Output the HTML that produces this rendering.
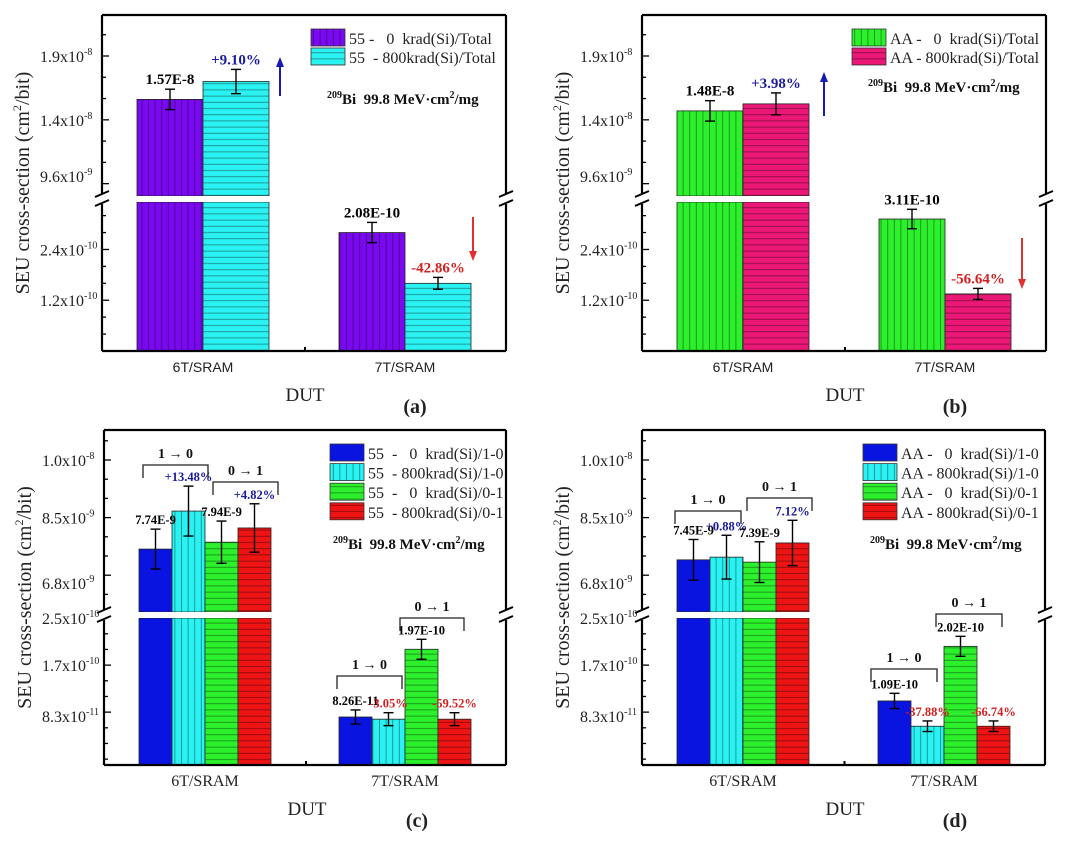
<!DOCTYPE html>
<html><head><meta charset="utf-8"><style>
html,body{margin:0;padding:0;background:#fff;}
svg{display:block;}
text{font-family:"Liberation Serif",serif;}
</style></head><body>
<svg id="fig" width="1080" height="851" viewBox="0 0 1080 851" xmlns="http://www.w3.org/2000/svg">
<defs>
<pattern id="pv" width="6.6" height="10" patternUnits="userSpaceOnUse"><line x1="3.3" y1="0" x2="3.3" y2="10" stroke="#000" stroke-opacity="0.45" stroke-width="0.8"/></pattern>
<pattern id="ph" width="10" height="6.2" patternUnits="userSpaceOnUse"><line x1="0" y1="3.1" x2="10" y2="3.1" stroke="#000" stroke-opacity="0.45" stroke-width="0.8"/></pattern>
</defs>
</svg>
<script>
// ---------- data ----------
const categories = ["6T/SRAM", "7T/SRAM"];
// Panel (a)
const aSeries = ["55 -   0  krad(Si)/Total", "55  - 800krad(Si)/Total"];
const a6T = [15.6e-9, 17.0e-9];
const a7T = [2.8e-10, 1.6e-10];
const a6Terr = [0.8e-9, 0.95e-9];
const a7Terr = [0.24e-10, 0.14e-10];
const aLabels6T = ["1.57E-8", "+9.10%"];
const aLabels7T = ["2.08E-10", "-42.86%"];
// Panel (b)
const bSeries = ["AA -   0  krad(Si)/Total", "AA - 800krad(Si)/Total"];
const b6T = [14.7e-9, 15.25e-9];
const b7T = [3.12e-10, 1.35e-10];
const b6Terr = [0.8e-9, 0.86e-9];
const b7Terr = [0.23e-10, 0.13e-10];
const bLabels6T = ["1.48E-8", "+3.98%"];
const bLabels7T = ["3.11E-10", "-56.64%"];
// Panel (c)
const cSeries = ["55  -   0  krad(Si)/1-0", "55  - 800krad(Si)/1-0", "55  -   0  krad(Si)/0-1", "55  - 800krad(Si)/0-1"];
const c6T = [7.68e-9, 8.67e-9, 7.86e-9, 8.23e-9];
const c7T = [0.817e-10, 0.78e-10, 1.97e-10, 0.78e-10];
const c6Terr = [0.52e-9, 0.65e-9, 0.55e-9, 0.63e-9];
const c7Terr = [0.12e-10, 0.11e-10, 0.17e-10, 0.11e-10];
const cLabels6T = ["7.74E-9", "+13.48%", "7.94E-9", "+4.82%"];
const cLabels7T = ["8.26E-11", "-3.05%", "1.97E-10", "-59.52%"];
// Panel (d)
const dSeries = ["AA -   0  krad(Si)/1-0", "AA - 800krad(Si)/1-0", "AA -   0  krad(Si)/0-1", "AA - 800krad(Si)/0-1"];
const d6T = [7.40e-9, 7.47e-9, 7.34e-9, 7.84e-9];
const d7T = [1.09e-10, 0.66e-10, 2.02e-10, 0.66e-10];
const d6Terr = [0.53e-9, 0.57e-9, 0.53e-9, 0.59e-9];
const d7Terr = [0.13e-10, 0.09e-10, 0.17e-10, 0.09e-10];
const dLabels6T = ["7.45E-9", "+0.88%", "7.39E-9", "7.12%"];
const dLabels7T = ["1.09E-10", "-37.88%", "2.02E-10", "-66.74%"];
// Tick labels
const topUpperTicks = [19e-9, 14e-9, 9.6e-9];
const topUpperTickLabels = ["1.9x10", "1.4x10", "9.6x10"];
const topUpperTickExp = ["-8", "-8", "-9"];
const topLowerTicks = [2.4e-10, 1.2e-10];
const topLowerTickLabels = ["2.4x10", "1.2x10"];
const topLowerTickExp = ["-10", "-10"];
const botUpperTicks = [10e-9, 8.5e-9, 6.8e-9];
const botUpperTickLabels = ["1.0x10", "8.5x10", "6.8x10"];
const botUpperTickExp = ["-8", "-9", "-9"];
const botLowerTicks = [2.5e-10, 1.7e-10, 0.83e-10];
const botLowerTickLabels = ["2.5x10", "1.7x10", "8.3x10"];
const botLowerTickExp = ["-10", "-10", "-11"];

// ---------- drawing ----------
const NS = "http://www.w3.org/2000/svg";
const svg = document.getElementById("fig");
function mk(tag, attrs, parent) {
  const e = document.createElementNS(NS, tag);
  for (const k in attrs) e.setAttribute(k, attrs[k]);
  (parent || svg).appendChild(e);
  return e;
}

function panel(cfg) {
  const g = mk("g", {});
  
  
  const gBars = mk("g", {}, g);
  
  
  const gTop = mk("g", {}, g);
  
  
  const L = cfg.x0, R = cfg.x1, T = cfg.top, B = cfg.bottom;
  const yU = v => cfg.uY0 + (cfg.uV0 - v) * cfg.uK;
  const yL = v => B - v * cfg.lK;
  const yVal = v => v > cfg.split ? yU(v) : yL(v);
  const n = cfg.series.length;
  [cfg.v6, cfg.v7].forEach((vals, ci) => {
    const cx = cfg.centers[ci];
    vals.forEach((v, i) => {
      const x = cx + (i - n / 2) * cfg.bw;
      const bg = mk("g", {}, gBars);
      
      
      const segs = [];
      if (v > cfg.split) { segs.push([cfg.gapB, B]); segs.push([yU(v), cfg.gapT]); }
      else segs.push([yL(v), B]);
      segs.forEach(s => {
        mk("rect", {x: x, y: s[0], width: cfg.bw, height: s[1] - s[0], fill: cfg.colors[i]}, bg);
        if (cfg.pats[i]) mk("rect", {x: x, y: s[0], width: cfg.bw, height: s[1] - s[0], fill: "url(#" + cfg.pats[i] + ")"}, bg);
        mk("rect", {x: x, y: s[0], width: cfg.bw, height: s[1] - s[0], fill: "none", stroke: "#222", "stroke-width": 0.8}, bg);
      });
      const err = (ci === 0 ? cfg.e6 : cfg.e7)[i];
      const yt = yVal(v + err), yb = yVal(v - err), ex = x + cfg.bw / 2;
      const eg = mk("g", {stroke: "#000", "stroke-width": 1.4}, gTop);
      
      
      mk("line", {x1: ex, y1: yt, x2: ex, y2: yb}, eg);
      mk("line", {x1: ex - 5, y1: yt, x2: ex + 5, y2: yt}, eg);
      mk("line", {x1: ex - 5, y1: yb, x2: ex + 5, y2: yb}, eg);
      const lbl = (ci === 0 ? cfg.l6 : cfg.l7)[i];
      const isPct = /%/.test(lbl);
      const col = isPct ? (lbl[0] === '-' ? "#d42020" : "#1a1aa0") : "#000";
      const t = mk("text", {x: ex, y: yt - 5, "text-anchor": "middle", "font-size": cfg.lfs, "font-weight": "bold", fill: col}, gTop);
      t.textContent = lbl;
      
      
    });
  });
  // break gap (white), between bars and overlays
  mk("rect", {x: L + 1, y: cfg.gapT, width: R - L - 2, height: cfg.gapB - cfg.gapT, fill: "#fff"}, gBars);
  // frame
  const fr = mk("g", {stroke: "#000", "stroke-width": 2.2, fill: "none"}, g);
  
  
  mk("line", {x1: L, y1: T, x2: R, y2: T}, fr);
  mk("line", {x1: L, y1: B, x2: R, y2: B}, fr);
  mk("line", {x1: L, y1: T, x2: L, y2: cfg.gapT}, fr);
  mk("line", {x1: L, y1: cfg.gapB, x2: L, y2: B}, fr);
  mk("line", {x1: R, y1: T, x2: R, y2: cfg.gapT}, fr);
  mk("line", {x1: R, y1: cfg.gapB, x2: R, y2: B}, fr);
  [L, R].forEach(xx => {
    const bm = mk("g", {stroke: "#000", "stroke-width": 2}, g);
    
    
    mk("rect", {x: xx - 7, y: cfg.gapT - 2, width: 14, height: cfg.gapB - cfg.gapT + 4, fill: "#fff", stroke: "none"}, bm);
    mk("line", {x1: xx - 7, y1: cfg.gapT + 1, x2: xx + 7, y2: cfg.gapT - 5}, bm);
    mk("line", {x1: xx - 7, y1: cfg.gapB + 4, x2: xx + 7, y2: cfg.gapB - 2}, bm);
  });
  const tg = mk("g", {stroke: "#000", "stroke-width": 1.3}, g);
  
  
  function ticks(vals, labs, exps, scale, ymin, ymax) {
    const pos = vals.map(scale);
    const step = (pos[1] - pos[0]) / 3;
    for (let k = -3; k < pos.length * 3 + 3; k++) {
      const base = pos[0] + k * step;
      if (base < ymin || base > ymax) continue;
      const major = k % 3 === 0 && k >= 0 && k / 3 < pos.length;
      mk("line", {x1: L, y1: base, x2: L + (major ? 7 : 4), y2: base}, tg);
    }
    vals.forEach((v, i) => {
      const y = pos[i];
      const t = mk("text", {x: L - 18, y: y + 6, "text-anchor": "end", "font-size": 16, fill: "#222"}, g);
      t.textContent = labs[i];
      
      
      const s = mk("text", {x: L - 18, y: y - 1, "font-size": 10, fill: "#222"}, g);
      s.textContent = exps[i];
      
      
    });
  }
  ticks(cfg.uT, cfg.uTL, cfg.uTE, yU, T + 4, cfg.gapT - 3);
  ticks(cfg.lT, cfg.lTL, cfg.lTE, yL, cfg.gapB + 3, B - 4);
  mk("line", {x1: (L + R) / 2 + 1, y1: B, x2: (L + R) / 2 + 1, y2: B - 4, stroke: "#000", "stroke-width": 2}, g);
  categories.forEach((c, i) => {
    const t = mk("text", {x: cfg.centers[i], y: B + 21, "text-anchor": "middle", "font-size": cfg.catSans ? 14 : 16, fill: "#222"}, g);
    if (cfg.catSans) t.setAttribute("style", 'font-family:"Liberation Sans",sans-serif');
    t.textContent = c;
    
    
  });
  const xt = mk("text", {x: L + 203, y: B + 50, "text-anchor": "middle", "font-size": 19, fill: "#222"}, g);
  xt.textContent = "DUT";
  
  
  const yc = (T + B) / 2;
  const yt = mk("text", {x: 0, y: 0, "text-anchor": "middle", "font-size": 20, fill: "#222", transform: "translate(" + (L - 73) + "," + yc + ") rotate(-90)"}, g);
  yt.innerHTML = 'SEU cross-section (cm<tspan dy="-8" font-size="12">2</tspan><tspan dy="8">/bit)</tspan>';
  
  
  const pl = mk("text", {x: L + 313, y: B + 62, "text-anchor": "middle", "font-size": 20, "font-weight": "bold", fill: "#222"}, g);
  pl.textContent = "(" + cfg.id + ")";
  
  
  const lg = mk("g", {}, g);
  
  
  cfg.series.forEach((s, i) => {
    const ey = cfg.legY + i * cfg.legStep;
    const e = mk("g", {}, lg);
    
    
    mk("rect", {x: cfg.legX, y: ey, width: 34, height: cfg.legH, fill: cfg.colors[i]}, e);
    if (cfg.pats[i]) mk("rect", {x: cfg.legX, y: ey, width: 34, height: cfg.legH, fill: "url(#" + cfg.pats[i] + ")"}, e);
    mk("rect", {x: cfg.legX, y: ey, width: 34, height: cfg.legH, fill: "none", stroke: "#333", "stroke-width": 0.8}, e);
    const t = mk("text", {x: cfg.legX + 38, y: ey + cfg.legH - 2, "font-size": 16, fill: "#222"}, e);
    t.setAttribute("style", "white-space:pre");
    t.textContent = s;
  });
  const an = mk("text", {x: cfg.annX, y: cfg.annY, "font-size": 15, "font-weight": "bold", fill: "#111"}, g);
  an.innerHTML = '<tspan dy="-6" font-size="10">209</tspan><tspan dy="6">Bi  99.8 MeV·cm</tspan><tspan dy="-6" font-size="10">2</tspan><tspan dy="6">/mg</tspan>';
  an.setAttribute("style", "white-space:pre");
  
  
  (cfg.brackets || []).forEach(b => {
    const bg = mk("g", {}, g);
    
    
    mk("polyline", {points: b.x1 + "," + (b.y + 13) + " " + b.x1 + "," + b.y + " " + b.x2 + "," + b.y + " " + b.x2 + "," + (b.y + 13), fill: "none", stroke: "#222", "stroke-width": 1.3}, bg);
    const t = mk("text", {x: (b.x1 + b.x2) / 2, y: b.y - 7, "text-anchor": "middle", "font-size": 14, "font-weight": "bold", fill: "#111"}, bg);
    t.textContent = b.t;
  });
  (cfg.arrows || []).forEach(a => {
    const ag = mk("g", {}, g);
    
    
    mk("line", {x1: a.x, y1: a.y1, x2: a.x, y2: a.up ? a.y2 + 8 : a.y2 - 8, stroke: a.c, "stroke-width": 2}, ag);
    const tip = a.y2, bs = a.up ? a.y2 + 10 : a.y2 - 10;
    mk("polygon", {points: a.x + "," + tip + " " + (a.x - 4) + "," + bs + " " + (a.x + 4) + "," + bs, fill: a.c}, ag);
  });
}

const topCommon = {top: 15, bottom: 351, gapT: 196, gapB: 202, uY0: 56, uV0: 19e-9, uK: 12.766e9, lK: 42.3e10, split: 1e-9,
  uT: topUpperTicks, uTL: topUpperTickLabels, uTE: topUpperTickExp, lT: topLowerTicks, lTL: topLowerTickLabels, lTE: topLowerTickExp,
  bw: 66, lfs: 15, catSans: true, legY: 29, legStep: 19, legH: 17};
const botCommon = {top: 430, bottom: 765, gapT: 612, gapB: 618, uY0: 460, uV0: 10e-9, uK: 38.4e9, lK: 58.75e10, split: 1e-9,
  uT: botUpperTicks, uTL: botUpperTickLabels, uTE: botUpperTickExp, lT: botLowerTicks, lTL: botLowerTickLabels, lTE: botLowerTickExp,
  bw: 33, lfs: 12.5, catSans: false, legY: 444, legStep: 19.6, legH: 17};

panel(Object.assign({}, topCommon, {id: "a", x0: 102, x1: 506, centers: [203, 405], series: aSeries,
  v6: a6T, v7: a7T, e6: a6Terr, e7: a7Terr, l6: aLabels6T, l7: aLabels7T,
  colors: ["#7a08f0", "#2af2f2"], pats: ["pv", "ph"], legX: 311, annX: 327, annY: 104,
  arrows: [{x: 280, y1: 96, y2: 57, up: true, c: "#1a1ab0"}, {x: 473, y1: 217, y2: 261, up: false, c: "#e03030"}]}));
panel(Object.assign({}, topCommon, {id: "b", x0: 642, x1: 1046, centers: [743, 945], series: bSeries,
  v6: b6T, v7: b7T, e6: b6Terr, e7: b7Terr, l6: bLabels6T, l7: bLabels7T,
  colors: ["#2cf02c", "#ec1878"], pats: ["pv", "ph"], legX: 852, annX: 868, annY: 92,
  arrows: [{x: 824, y1: 116, y2: 72, up: true, c: "#1a1ab0"}, {x: 1022, y1: 238, y2: 289, up: false, c: "#e03030"}]}));
panel(Object.assign({}, botCommon, {id: "c", x0: 104, x1: 506, centers: [205, 405], series: cSeries,
  v6: c6T, v7: c7T, e6: c6Terr, e7: c7Terr, l6: cLabels6T, l7: cLabels7T,
  colors: ["#0a14e0", "#2af2f2", "#2cf02c", "#ee1414"], pats: [null, "pv", "ph", "ph"], legX: 330, annX: 333, annY: 549,
  brackets: [{x1: 143, x2: 208, y: 465, t: "1 → 0"}, {x1: 213, x2: 278, y: 482, t: "0 → 1"},
             {x1: 337, x2: 402, y: 676, t: "1 → 0"}, {x1: 400, x2: 464, y: 618, t: "0 → 1"}]}));
panel(Object.assign({}, botCommon, {id: "d", x0: 642, x1: 1045, centers: [743, 944], series: dSeries,
  v6: d6T, v7: d7T, e6: d6Terr, e7: d7Terr, l6: dLabels6T, l7: dLabels7T,
  colors: ["#0a14e0", "#2af2f2", "#2cf02c", "#ee1414"], pats: [null, "pv", "ph", "ph"], legX: 863, annX: 870, annY: 549,
  brackets: [{x1: 675, x2: 741, y: 511, t: "1 → 0"}, {x1: 747, x2: 812, y: 498, t: "0 → 1"},
             {x1: 871, x2: 937, y: 669, t: "1 → 0"}, {x1: 936, x2: 1002, y: 614, t: "0 → 1"}]}));
</script>
</body></html>
